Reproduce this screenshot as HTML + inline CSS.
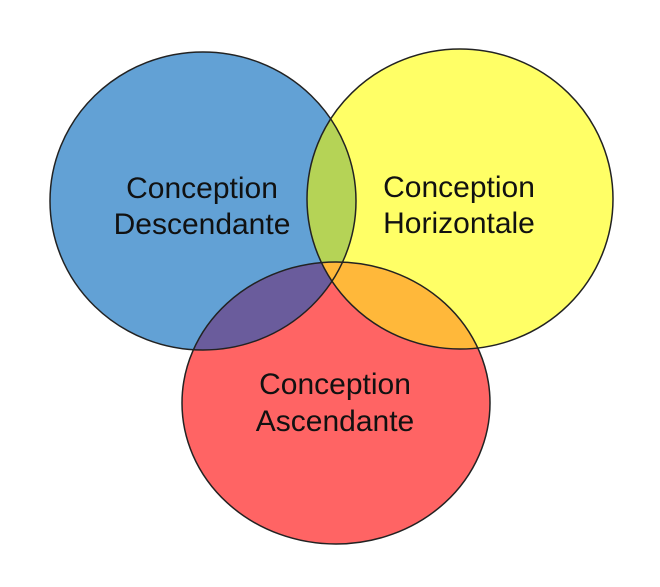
<!DOCTYPE html>
<html><head><style>html,body{margin:0;padding:0;background:#fff;width:660px;height:587px;overflow:hidden}</style></head>
<body>
<svg width="660" height="587" xmlns="http://www.w3.org/2000/svg">
<defs>
<clipPath id="cb"><ellipse cx="203" cy="201" rx="153" ry="149"/></clipPath>
<clipPath id="cy"><ellipse cx="460" cy="199" rx="153" ry="150"/></clipPath>
<clipPath id="cr"><ellipse cx="336" cy="403" rx="154" ry="141"/></clipPath>
</defs>
<ellipse cx="336" cy="403" rx="154" ry="141" fill="#ff6464"/>
<ellipse cx="203" cy="201" rx="153" ry="149" fill="#62a1d5"/>
<ellipse cx="460" cy="199" rx="153" ry="150" fill="#ffff66"/>
<g clip-path="url(#cb)"><ellipse cx="460" cy="199" rx="153" ry="150" fill="#b5d356"/></g>
<g clip-path="url(#cb)"><ellipse cx="336" cy="403" rx="154" ry="141" fill="#6a5c9c"/></g>
<g clip-path="url(#cy)"><ellipse cx="336" cy="403" rx="154" ry="141" fill="#ffb83a"/></g>
<g fill="none" stroke="#222" stroke-width="1.5">
<ellipse cx="336" cy="403" rx="154" ry="141"/>
<ellipse cx="203" cy="201" rx="153" ry="149"/>
<ellipse cx="460" cy="199" rx="153" ry="150"/>
</g>
<g font-family="Liberation Sans, sans-serif" font-size="30" fill="#111" text-anchor="middle">
<text x="202" y="198">Conception</text><text x="202" y="234">Descendante</text>
<text x="459" y="197">Conception</text><text x="459" y="233">Horizontale</text>
<text x="335" y="394">Conception</text><text x="335" y="431">Ascendante</text>
</g>
</svg>
</body></html>
